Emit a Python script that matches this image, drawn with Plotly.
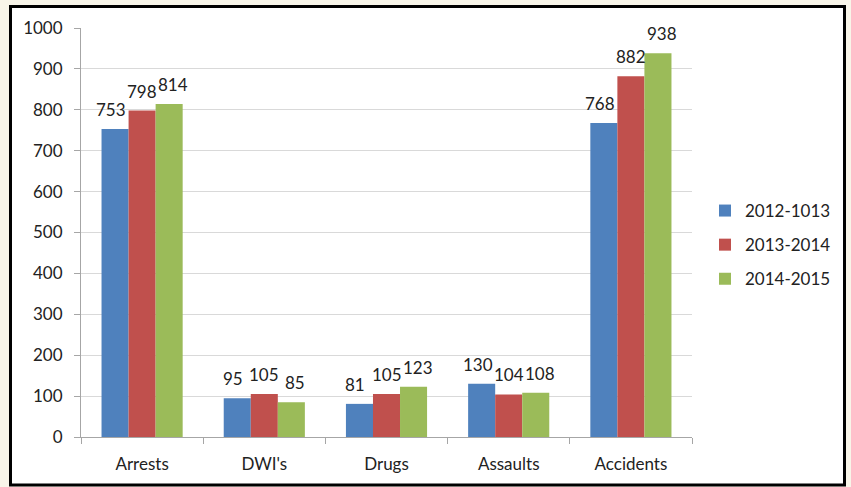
import plotly.graph_objects as go

categories = ["Arrests", "DWI's", "Drugs", "Assaults", "Accidents"]
series_names = ["2012-1013", "2013-2014", "2014-2015"]
values_2012 = [753, 95, 81, 130, 768]
values_2013 = [798, 105, 105, 104, 882]
values_2014 = [814, 85, 123, 108, 938]
colors = ["#4f81bd", "#c0504d", "#9bbb59"]
y_ticks = [0, 100, 200, 300, 400, 500, 600, 700, 800, 900, 1000]

W, H = 851, 487
L, R, T, B = 81, 159, 28, 50
pw, ph = W - L - R, H - T - B
BARGAP = 0.336
bar_px = pw / len(categories) * (1 - BARGAP) / 3

def px_x(p):
    return (p - L) / pw

def px_y(p):
    return (H - B - p) / ph

FONT = "Lato"
FS = 17
TXT = "#222222"
fig = go.Figure()
all_vals = [values_2012, values_2013, values_2014]
for i, (name, vals) in enumerate(zip(series_names, all_vals)):
    fig.add_trace(go.Bar(
        x=categories, y=vals, name=name, marker_color=colors[i],
        marker_line_width=0, legendgroup=name,
    ))
    for c, v in zip(categories, vals):
        fig.add_annotation(x=c, y=v, xref="x", yref="y", text=str(v),
                           showarrow=False, yanchor="bottom",
                           xshift=(i - 1) * bar_px * 1.15, yshift=7,
                           font=dict(family=FONT, size=FS, color=TXT))

fig.add_shape(type="rect", xref="paper", yref="paper",
              x0=px_x(10.5), x1=px_x(844.5), y0=px_y(485), y1=px_y(6.5),
              fillcolor="white", line=dict(color="black", width=3), layer="below")

fig.update_layout(
    width=W, height=H,
    margin=dict(l=L, r=R, t=T, b=B),
    paper_bgcolor="#f8f5e9", plot_bgcolor="white",
    barmode="group", bargap=BARGAP, bargroupgap=0,
    font=dict(family=FONT, size=FS, color=TXT),
    showlegend=True,
    legend=dict(x=px_x(705), y=px_y(193), xanchor="left", yanchor="top",
                font=dict(family=FONT, size=FS, color=TXT),
                traceorder="grouped", tracegroupgap=9,
                bgcolor="rgba(0,0,0,0)"),
    xaxis=dict(showline=True, linecolor="#a6a6a6", linewidth=1,
               ticks="outside", ticklen=6, tickcolor="#a6a6a6",
               tickson="boundaries", showgrid=False,
               tickfont=dict(family=FONT, size=FS, color=TXT),
               ticklabelstandoff=12),
    yaxis=dict(range=[0, 1000], tickvals=y_ticks, showline=True,
               linecolor="#a6a6a6", linewidth=1, ticks="outside",
               ticklen=6, tickcolor="#a6a6a6", gridcolor="#d9d9d9",
               zeroline=False,
               tickfont=dict(family=FONT, size=FS, color=TXT),
               ticklabelstandoff=8),
)

fig.write_html("out.html", config={"displayModeBar": False},
               post_script="document.body.style.margin='0px';")
